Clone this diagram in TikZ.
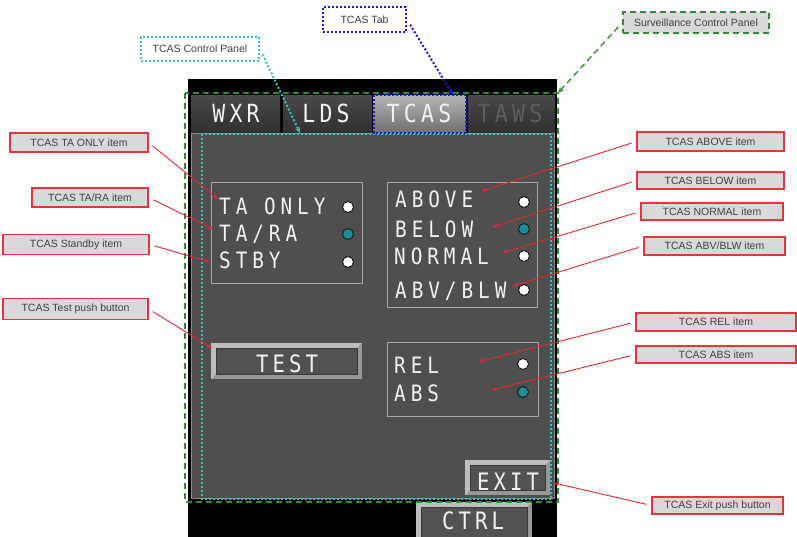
\documentclass[tikz,border=0pt]{standalone}
\usepackage{fontspec}
\usetikzlibrary{arrows.meta,calc}
\newfontfamily\lblfont{Liberation Sans}
\newfontfamily\dispfont[FakeStretch=0.86,LetterSpace=22]{DejaVu Sans Mono}
\newfontfamily\btnfont[FakeStretch=0.86,LetterSpace=17]{DejaVu Sans Mono}
\definecolor{panelc}{HTML}{4F4F4F}
\definecolor{paneledge}{HTML}{8A8A8A}
\definecolor{grpc}{HTML}{A8A8A8}
\definecolor{tabtop}{HTML}{484848}
\definecolor{tabbot}{HTML}{303030}
\definecolor{seltop}{HTML}{B4B4B4}
\definecolor{selbot}{HTML}{6E6E6E}
\definecolor{dispw}{HTML}{F2F2F2}
\definecolor{dimtxt}{HTML}{5E5E5E}
\definecolor{tealc}{HTML}{1F8E9C}
\definecolor{ringc}{HTML}{1A1A1A}
\definecolor{bvlight}{HTML}{BDBDBD}
\definecolor{bvmid}{HTML}{989898}
\definecolor{bvface}{HTML}{525252}
\definecolor{bvedge}{HTML}{383838}
\definecolor{lblfill}{HTML}{D9D9D9}
\definecolor{lblred}{HTML}{E8343C}
\definecolor{conred}{HTML}{E8262E}
\definecolor{lbltxt}{HTML}{404040}
\definecolor{cyanc}{HTML}{36C4C2}
\definecolor{bluec}{HTML}{1A1AE6}
\definecolor{greenc}{HTML}{2E8B2E}
\newcommand{\bevelbtn}[4]{%
  \fill[bvmid] (#1,#2) rectangle (#3,#4);
  \fill[bvlight] (#1,#2) -- (#3,#2) -- (#3-5,#2+5) -- (#1+5,#2+5) -- (#1+5,#4-5) -- (#1,#4) -- cycle;
  \filldraw[fill=bvface,draw=bvedge,line width=0.8pt] (#1+5,#2+5) rectangle (#3-5,#4-5);
}
\begin{document}
\begin{tikzpicture}[x=1pt,y=-1pt,
  disp/.style={inner sep=0pt,text=dispw,font=\dispfont\fontsize{22.5}{23}\selectfont},
  btn/.style={inner sep=0pt,text=dispw,font=\btnfont\fontsize{24}{24}\selectfont},
  tabtxt/.style={inner sep=0pt,text=dispw,font=\btnfont\fontsize{25}{25}\selectfont},
  radio/.style={circle,draw=ringc,line width=1pt,fill=white,minimum size=11pt,inner sep=0pt},
  radiosel/.style={radio,fill=tealc},
  grpbox/.style={draw=grpc,line width=1pt},
  lbl/.style={draw=lblred,line width=1.2pt,fill=lblfill,text=lbltxt,inner sep=0pt,
    font=\lblfont\fontsize{10.5}{11}\selectfont},
  redcon/.style={draw=conred,line width=0.9pt,-{Stealth[length=5pt,width=4pt]},shorten <=5pt},
  cyandot/.style={draw=cyanc,line width=2pt,dash pattern=on 2pt off 2pt},
  bluedot/.style={draw=bluec,line width=2pt,dash pattern=on 2pt off 2pt},
  greendash/.style={draw=greenc,line width=1.3pt,dash pattern=on 6pt off 4pt}
]
\useasboundingbox (0,0) rectangle (797,537);
\fill[white] (0,0) rectangle (797,537);

% device body
\fill[black] (188,79) rectangle (557,537);

% tabs
\shade[top color=tabtop,bottom color=tabbot] (191,96) rectangle (280,133);
\shade[top color=tabtop,bottom color=tabbot] (283,96) rectangle (372,133);
\shade[top color=seltop,bottom color=selbot] (373,96) rectangle (466,133);
\shade[top color=tabtop,bottom color=tabbot] (468,96) rectangle (555,133);
\node[tabtxt,anchor=base] (tWXR) at (236,123) {WXR};
\node[tabtxt,anchor=base] (tLDS) at (326,123) {LDS};
\node[tabtxt,anchor=base] (tTCAS) at (419,123) {TCAS};
\node[tabtxt,anchor=base,text=dimtxt] (tTAWS) at (510,123) {TAWS};

% panel
\filldraw[fill=panelc,draw=paneledge,line width=0.8pt] (191.5,133) rectangle (554.5,498.5);

% group boxes
\draw[grpbox] (211,183) rectangle (362,283);
\draw[grpbox] (387,183) rectangle (537,307);
\draw[grpbox] (387,342) rectangle (538,416);

% left group
\node[disp,anchor=base west] (xTAonly) at (219,215) {TA ONLY};
\node[disp,anchor=base west] (xTARA) at (219,242) {TA/RA};
\node[disp,anchor=base west] (xSTBY) at (219,269) {STBY};
\node[radio] (cTAonly) at (348,207) {};
\node[radiosel] (cTARA) at (348,234) {};
\node[radio] (cSTBY) at (348,262) {};

% right group
\node[disp,anchor=base west] (xABOVE) at (395,208) {ABOVE};
\node[disp,anchor=base west] (xBELOW) at (395,237) {BELOW};
\node[disp,anchor=base west] (xNORMAL) at (394,265) {NORMAL};
\node[disp,anchor=base west] (xABV) at (395,298) {ABV/BLW};
\node[radio] (cABOVE) at (524,202) {};
\node[radiosel] (cBELOW) at (524,229) {};
\node[radio] (cNORMAL) at (524,256) {};
\node[radio] (cABV) at (524,290) {};

% REL / ABS
\node[disp,anchor=base west] (xREL) at (394,373) {REL};
\node[disp,anchor=base west] (xABS) at (394,401) {ABS};
\node[radio] (cREL) at (523,364) {};
\node[radiosel] (cABS) at (523,392) {};

% buttons
\bevelbtn{211}{343}{362}{379}
\node[btn,anchor=base] (bTEST) at (287,372) {TEST};
\bevelbtn{465}{460}{550}{495}
\node[btn,anchor=base] (bEXIT) at (508,490) {EXIT};
\bevelbtn{416}{502}{532}{542}
\node[btn,anchor=base] (bCTRL) at (473,529) {CTRL};

% outline overlays
\draw[cyandot] (201.5,134) rectangle (551,499);
\draw[bluedot] (373.5,95.5) rectangle (466,133);
\draw[greendash] (185,93) rectangle (558,502);

% labels
\node[lbl,minimum width=138pt,minimum height=19pt] (lTAonly) at (79,142.5) {TCAS TA ONLY item};
\node[lbl,minimum width=116pt,minimum height=19pt] (lTARA) at (90,197.5) {TCAS TA/RA item};
\node[lbl,minimum width=146pt,minimum height=20pt] (lStby) at (76,244.5) {TCAS Standby item};
\node[lbl,minimum width=145pt,minimum height=21pt] (lTest) at (75.5,309) {TCAS Test push button\hspace{16pt}};
\node[lbl,minimum width=147pt,minimum height=19pt] (lAbove) at (710.5,141.5) {TCAS ABOVE item};
\node[lbl,minimum width=147pt,minimum height=17pt] (lBelow) at (710.5,180.5) {TCAS BELOW item};
\node[lbl,minimum width=142pt,minimum height=17pt] (lNormal) at (712,211.5) {TCAS NORMAL item\hspace{12pt}};
\node[lbl,minimum width=141pt,minimum height=18pt] (lAbv) at (714.5,246) {TCAS ABV/BLW item};
\node[lbl,minimum width=160pt,minimum height=18pt] (lRel) at (716,322) {TCAS REL item};
\node[lbl,minimum width=160pt,minimum height=17pt] (lAbs) at (716,354.5) {TCAS ABS item};
\node[lbl,minimum width=131pt,minimum height=17pt] (lExit) at (717.5,505.5) {TCAS Exit push button};
\node[lbl,cyandot,fill=white,minimum width=118pt,minimum height=24pt] (lCP) at (200,49) {TCAS Control Panel};
\node[lbl,bluedot,fill=white,minimum width=83pt,minimum height=25pt] (lTab) at (364.5,19.5) {TCAS Tab\hspace{12pt}};
\node[lbl,greendash,minimum width=146pt,minimum height=21pt] (lSurv) at (696,22.5) {Surveillance Control Panel};

% arrow targets
\coordinate (tTAonly) at (218,199);
\coordinate (tTARA) at (213,229);
\coordinate (tStby) at (210,262);
\coordinate (tTest) at (212,348);
\coordinate (tAbove) at (482,191);
\coordinate (tBelow) at (493,227);
\coordinate (tNormal) at (502,253);
\coordinate (tAbv) at (513,286);
\coordinate (tRel) at (478,362);
\coordinate (tAbs) at (492,390);
\coordinate (tExit) at (554,483);
\coordinate (tCP) at (300,133);
\coordinate (tTab) at (453,95);
\coordinate (tSurv) at (558,93);

% connectors
\draw[redcon] (lTAonly.east) -- (tTAonly);
\draw[redcon] (lTARA.east) -- (tTARA);
\draw[redcon] (lStby.east) -- (tStby);
\draw[redcon] (lTest.east) -- (tTest);
\draw[redcon] (lAbove.west) -- (tAbove);
\draw[redcon] (lBelow.west) -- (tBelow);
\draw[redcon] (lNormal.west) -- (tNormal);
\draw[redcon] (lAbv.west) -- (tAbv);
\draw[redcon] (lRel.west) -- (tRel);
\draw[redcon] (lAbs.west) -- (tAbs);
\draw[redcon] (lExit.west) -- (tExit);
\draw[cyandot,-{Stealth[length=6pt,width=5pt]},shorten <=6pt] (lCP.east) -- (tCP);
\draw[bluedot,-{Stealth[length=6pt,width=5pt]},shorten <=6pt] (lTab.east) -- (tTab);
\draw[greendash,-{Stealth[length=6pt,width=5pt]},shorten <=6pt] (lSurv.west) -- (tSurv);
\end{tikzpicture}
\end{document}
